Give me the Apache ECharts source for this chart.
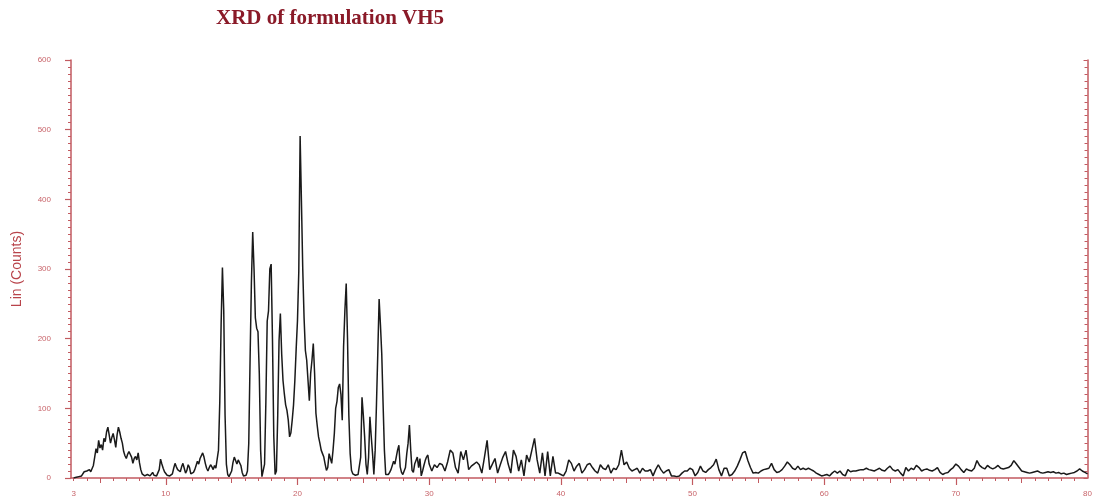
<!DOCTYPE html>
<html>
<head>
<meta charset="utf-8">
<script src="https://cdn.jsdelivr.net/npm/echarts@6/dist/echarts.min.js"></script>
<style>
  html, body { margin: 0; padding: 0; background: #ffffff; }
  #chart { width: 1095px; height: 502px; }
</style>
</head>
<body>
<div id="chart"></div>
<script>
// Diffraction scan, 2-theta in degrees vs. intensity (counts).
// Fine-step part of the scan: 3.0 .. 30.0 deg, every 0.1 deg.
const scanFineStart = 3.0;
const scanFineStep = 0.1;
const scanFineCounts = [
  0, 0, 1, 0, 2, 1, 3, 5, 9, 7,              // 3.x
  10, 8, 12, 9, 11, 18, 30, 42, 36, 54,      // 4.x
  43, 48, 40, 57, 52, 66, 73, 62, 50, 58,    // 5.x
  64, 55, 44, 62, 73, 66, 57, 50, 38, 32,    // 6.x
  28, 34, 38, 36, 30, 21, 28, 31, 26, 36,    // 7.x
  22, 12, 6, 4, 3, 4, 5, 4, 3, 4,            // 8.x
  8, 4, 2, 3, 5, 12, 27, 20, 14, 9,          // 9.x
  7, 4, 2, 3, 2, 6, 14, 21, 16, 12,          // 10.x
  12, 9, 16, 21, 14, 7, 11, 19, 15, 6,       // 11.x
  4, 8, 12, 18, 24, 20, 28, 26, 36, 30,      // 12.x
  21, 14, 10, 15, 19, 16, 12, 18, 14, 15,    // 13.x
  40, 110, 220, 302, 240, 90, 20, 5, 2, 3,   // 14.x
  10, 22, 30, 28, 20, 26, 25, 18, 8, 3,      // 15.x
  2, 4, 10, 50, 170, 280, 353, 300, 230, 215, // 16.x
  210, 150, 40, 2, 3, 20, 110, 225, 240, 300, // 17.x
  307, 200, 60, 5, 10, 90, 197, 236, 178, 140, // 18.x
  121, 105, 97, 83, 59, 65, 83, 105, 140, 185, // 19.x
  226, 297, 491, 397, 300, 230, 183, 169, 140, 111, // 20.x
  150, 169, 193, 150, 93, 75, 59, 50, 40, 35, // 21.x
  30, 20, 11, 15, 35, 28, 21, 40, 64, 100,   // 22.x
  110, 130, 135, 120, 83, 188, 240, 279, 200, 90, // 23.x
  35, 11, 6, 5, 4, 6, 5, 4, 30, 116,         // 24.x
  90, 59, 20, 5, 30, 88, 60, 35, 5, 40,      // 25.x
  107, 180, 257, 220, 178, 107, 40, 5, 4, 5, // 26.x
  8, 12, 18, 24, 20, 30, 40, 47, 16, 8,      // 27.x
  5, 6, 15, 35, 50, 76, 40, 11, 8, 20,       // 28.x
  25, 30, 15, 28, 3, 10, 18, 25, 30, 33,     // 29.x
  20                                         // 30.0
];

// Coarse-step part of the scan: 30.2 .. 80.0 deg, every 0.2 deg.
const scanCoarseStart = 30.2;
const scanCoarseStep = 0.2;
const scanCoarseCounts = [
  10, 19, 15, 21, 19, 10, 23, 40, 36, 15,    // 30.2-32.0
  7, 38, 26, 40, 12, 17, 20, 23, 19, 7,      // 32.2-34.0
  30, 54, 12, 20, 28, 7, 19, 30, 38, 20,     // 34.2-36.0
  7, 40, 31, 10, 26, 3, 33, 23, 40, 57,      // 36.2-38.0
  26, 7, 36, 3, 38, 3, 31, 7, 7, 5,          // 38.2-40.0
  3, 10, 26, 21, 10, 17, 21, 7, 12, 19,      // 40.2-42.0
  21, 15, 10, 7, 19, 14, 12, 19, 7, 14,      // 42.2-44.0
  12, 19, 40, 19, 23, 14, 10, 12, 14, 7,     // 44.2-46.0
  14, 10, 10, 12, 3, 12, 19, 12, 7, 10,      // 46.2-48.0
  12, 3, 3, 2, 3, 7, 10, 10, 14, 12,         // 48.2-50.0
  3, 8, 17, 10, 8, 12, 15, 19, 27, 12,       // 50.2-52.0
  3, 14, 14, 3, 5, 10, 17, 26, 36, 38,       // 52.2-54.0
  25, 15, 7, 8, 7, 10, 12, 13, 14, 21,       // 54.2-56.0
  12, 8, 9, 12, 17, 23, 19, 14, 12, 17,      // 56.2-58.0
  12, 14, 12, 14, 12, 10, 7, 5, 3, 4,        // 58.2-60.0
  5, 3, 7, 10, 7, 10, 5, 3, 12, 9,           // 60.2-62.0
  10, 10, 11, 12, 12, 14, 12, 11, 10, 12,    // 62.2-64.0
  14, 11, 10, 14, 17, 12, 10, 12, 7, 3,      // 64.2-66.0
  15, 10, 14, 12, 18, 15, 10, 12, 13, 11,    // 66.2-68.0
  10, 12, 15, 8, 5, 7, 8, 12, 15, 20,        // 68.2-70.0
  17, 12, 8, 13, 11, 10, 14, 25, 18, 15,     // 70.2-72.0
  13, 18, 15, 13, 15, 18, 14, 13, 14, 15,    // 72.2-74.0
  18, 25, 20, 15, 10, 9, 8, 7, 8, 9,         // 74.2-76.0
  10, 8, 7, 8, 9, 8, 9, 7, 8, 6,             // 76.2-78.0
  7, 5, 6, 7, 8, 10, 13, 10, 8, 6            // 78.2-80.0
];

// Axis range, labels and tick positions
const xMin = 2.8;
const xMax = 80;
const xLabelValues = [3, 10, 20, 30, 40, 50, 60, 70, 80];
const xMajorTicks = [10, 20, 30, 40, 50, 60, 70];
const xMidTicks = [5, 15, 25, 35, 45, 55, 65, 75];
const xMinorTicks = [];
for (let d = 3; d < 80; d++) xMinorTicks.push(d);

const chartTitle = 'XRD of formulation VH5';
const yAxisTitle = 'Lin (Counts)';

function toPairs(start, step, counts) {
  return counts.map((c, i) => [Math.round((start + i * step) * 100) / 100, c]);
}
const scanData = toPairs(scanFineStart, scanFineStep, scanFineCounts)
  .concat(toPairs(scanCoarseStart, scanCoarseStep, scanCoarseCounts));

const axisRed = '#c25a60';
const labelRed = '#c8646a';
const labelFont = 'Liberation Sans';

function tickOnlyXAxis(values, len) {
  return {
    type: 'value', min: xMin, max: xMax, position: 'bottom',
    axisLine: { show: false },
    axisLabel: { show: false },
    splitLine: { show: false },
    axisTick: { show: true, customValues: values, length: len, lineStyle: { color: axisRed, width: 1 } }
  };
}

const chart = echarts.init(document.getElementById('chart'), null, { renderer: 'canvas' });
chart.setOption({
  animation: false,
  backgroundColor: '#ffffff',
  title: {
    text: chartTitle,
    left: 211,
    top: 3,
    textStyle: { fontFamily: 'Liberation Serif', fontWeight: 'bold', fontSize: 21, color: '#8a1a28' }
  },
  grid: { left: 71, right: 6, top: 60, bottom: 24, containLabel: false },
  xAxis: [
    {
      type: 'value', min: xMin, max: xMax, position: 'bottom',
      axisLine: { show: true, lineStyle: { color: axisRed, width: 1.5 } },
      axisTick: { show: true, customValues: xMajorTicks, length: 7, lineStyle: { color: axisRed, width: 1.2 } },
      axisLabel: { customValues: xLabelValues, fontSize: 8, color: labelRed, fontFamily: labelFont, margin: 12 },
      splitLine: { show: false }
    },
    tickOnlyXAxis(xMidTicks, 5),
    tickOnlyXAxis(xMinorTicks, 3)
  ],
  yAxis: [
    {
      type: 'value', min: 0, max: 600, interval: 100, position: 'left',
      name: yAxisTitle, nameLocation: 'middle', nameGap: 47, nameRotate: 90,
      nameTextStyle: { fontFamily: labelFont, fontSize: 14, color: '#b8434a' },
      axisLine: { show: true, lineStyle: { color: axisRed, width: 1.5 } },
      axisTick: { show: true, length: 6, lineStyle: { color: axisRed, width: 1.2 } },
      minorTick: { show: true, splitNumber: 10, length: 3, lineStyle: { color: axisRed, width: 1 } },
      axisLabel: { fontSize: 8, color: labelRed, fontFamily: labelFont, margin: 20 },
      splitLine: { show: false },
      minorSplitLine: { show: false }
    },
    {
      type: 'value', min: 0, max: 600, interval: 100, position: 'right',
      axisLine: { show: true, lineStyle: { color: axisRed, width: 1.5 } },
      axisTick: { show: true, inside: true, length: 4, lineStyle: { color: axisRed, width: 1 } },
      minorTick: { show: true, splitNumber: 10, length: 3, lineStyle: { color: axisRed, width: 1 } },
      axisLabel: { show: false },
      splitLine: { show: false },
      minorSplitLine: { show: false }
    }
  ],
  series: [
    {
      type: 'line',
      xAxisIndex: 0,
      yAxisIndex: 0,
      data: scanData,
      showSymbol: false,
      symbol: 'none',
      lineStyle: { color: '#1a1a1a', width: 1.5 },
      silent: true
    }
  ]
});
</script>
</body>
</html>
